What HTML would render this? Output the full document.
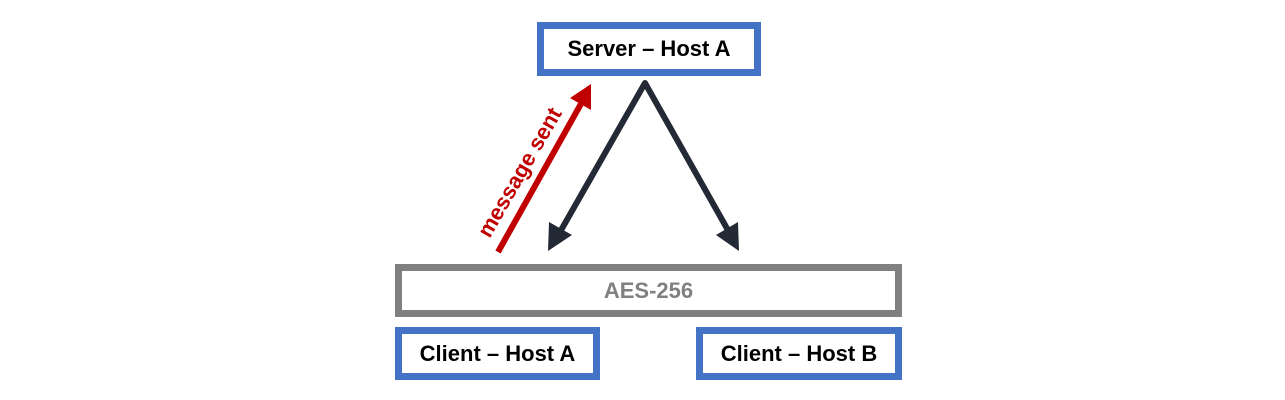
<!DOCTYPE html>
<html><head><style>
body{margin:0;width:1285px;height:400px;background:#fff;overflow:hidden;position:relative;font-family:"Liberation Sans",sans-serif}
.b{position:absolute;box-sizing:border-box;border:7px solid #4472c4;background:#fff;display:flex;align-items:center;justify-content:center;font-weight:bold;font-size:22px;color:#000}
</style></head><body>
<div class="b" style="left:537px;top:22px;width:224px;height:54px">Server – Host A</div>
<div class="b" style="left:395px;top:264px;width:507px;height:53px;border-color:#808080;color:#808080">AES-256</div>
<div class="b" style="left:395px;top:327px;width:205px;height:53px">Client – Host A</div>
<div class="b" style="left:696px;top:327px;width:206px;height:53px">Client – Host B</div>
<svg width="1285" height="400" style="position:absolute;left:0;top:0">
<polyline points="560,232 645,83 729,232" fill="none" stroke="#232a35" stroke-width="6" stroke-linejoin="round"/>
<polygon points="548,251 549,222 572,235" fill="#232a35"/>
<polygon points="739,251 738,222 716,235" fill="#232a35"/>
<line x1="498" y1="252" x2="582" y2="102" stroke="#c00000" stroke-width="6"/>
<polygon points="591,84 591,110 570,98" fill="#c00000"/>
<text x="0" y="0" transform="translate(526,176) rotate(-60)" text-anchor="middle" font-family="Liberation Sans,sans-serif" font-weight="bold" font-size="22" fill="#c00000">message sent</text>
</svg>
</body></html>
